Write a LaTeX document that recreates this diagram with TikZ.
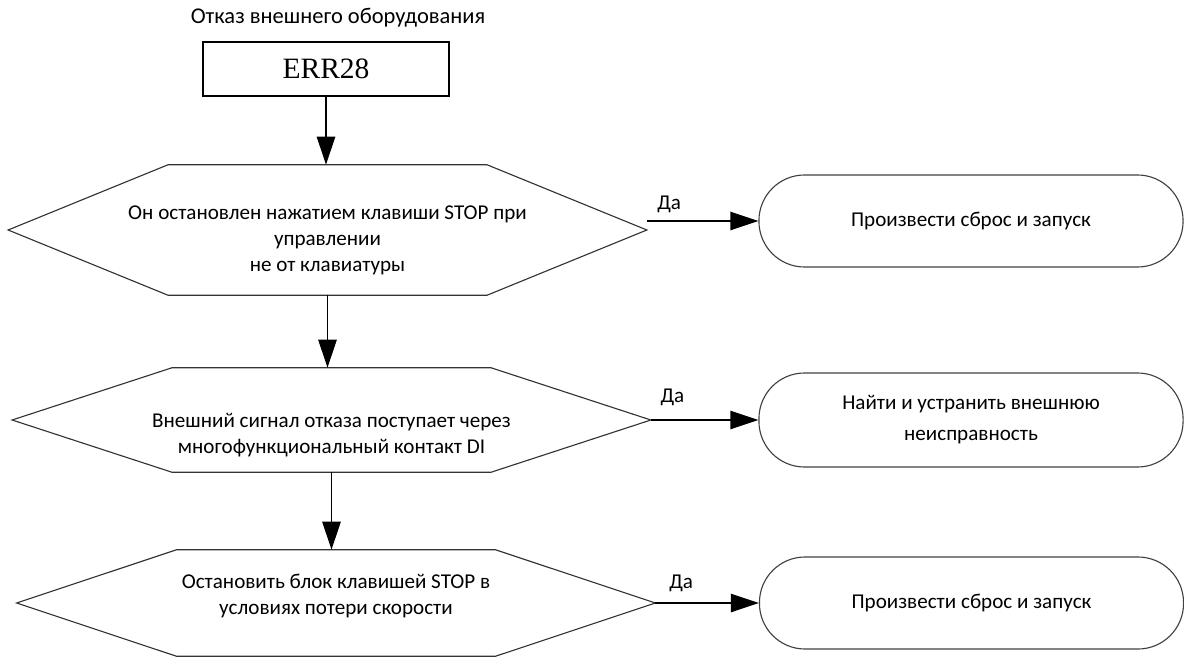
\documentclass[tikz,border=0pt]{standalone}
\usepackage{fontspec}
\setmainfont{Carlito}
\newfontfamily\errfont{Liberation Serif}
\usetikzlibrary{positioning, calc, arrows.meta}
\tikzset{
  txt/.style={font=\fontsize{15pt}{18.5pt}\selectfont},
  decision/.style={txt, minimum width=15.95cm, minimum height=#1,
                   inner sep=0pt, align=center},
  hexline/.style={draw=black!80, line width=0.8pt},
  outcome/.style={txt, draw=black!75, line width=0.8pt, rounded corners=1.14cm,
                  minimum width=10.6cm, minimum height=2.3cm, align=center},
  errbox/.style={draw, line width=1.5pt, minimum width=6.15cm, minimum height=1.35cm,
                 font=\errfont\fontsize{21pt}{24pt}\selectfont},
  yes/.style={txt, inner sep=1pt},
  flow/.style={-{Triangle[length=7mm, width=4.6mm]}, line width=0.9pt},
}

\begin{document}
\begin{tikzpicture}[x=0.025cm, y=-0.025cm]
  \useasboundingbox (0,0) rectangle (1184,657);

  \node[font=\fontsize{16pt}{19.5pt}\selectfont] (ttl) at (338,18) {Отказ внешнего оборудования};
  \node[errbox] (err) at (326,69) {ERR28};

  % decisions
  \node[decision=3.25cm] (h1) at (327.5,230)
    {\rule{0pt}{25pt}Он остановлен нажатием клавиши STOP при\\управлении\\не от клавиатуры};
  \node[decision=2.6cm] (h2) at (331.5,420)
    {\rule{0pt}{32pt}Внешний сигнал отказа поступает через\\многофункциональный контакт DI};
  \node[decision=2.65cm] (h3) at (336,603)
    {Остановить блок клавишей STOP в\\условиях потери скорости\rule[-12pt]{0pt}{12pt}};

  \foreach \n in {h1,h2,h3}
    \draw[hexline] ($(\n.north west)+(160,0)$) -- ($(\n.north east)+(-160,0)$)
      -- (\n.east) -- ($(\n.south east)+(-160,0)$)
      -- ($(\n.south west)+(160,0)$) -- (\n.west) -- cycle;

  % outcomes
  \node[outcome] (r1) at (971,221) {Произвести сброс и запуск};
  \node[outcome, minimum height=2.35cm, font=\fontsize{15pt}{22pt}\selectfont] (r2) at (971,420)
    {Найти и устранить внешнюю\\неисправность};
  \node[outcome] (r3) at (971.5,603) {Произвести сброс и запуск};

  \draw[flow] (err.south) -- (err.south |- h1.north);
  \draw[flow] (h1.south) -- (h1.south |- h2.north);
  \draw[flow] (h2.south) -- (h2.south |- h3.north);

  \draw[flow] (h1.east |- r1.west) -- node[yes, pos=0.2, above=0.15cm] (y1) {Да} (r1.west);
  \draw[flow] (h2.east) -- node[yes, pos=0.2, above=0.3cm] (y2) {Да} (r2.west);
  \draw[flow] (h3.east) -- node[yes, pos=0.25, above=0.22cm] (y3) {Да} (r3.west);
\end{tikzpicture}
\end{document}
